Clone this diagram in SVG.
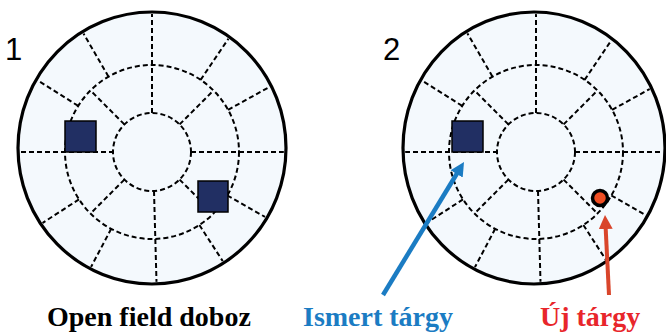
<svg xmlns="http://www.w3.org/2000/svg" xmlns:xlink="http://www.w3.org/1999/xlink" width="666" height="334" viewBox="0 0 666 334">
<style>
.disk{fill:#f4f9fd;stroke:#000;stroke-width:3.2}
.dash{fill:none;stroke:#000;stroke-width:2;stroke-dasharray:5 3}
.obj{fill:#212f63;stroke:#000;stroke-width:1.5}
.num{font-family:"Liberation Sans",Arial,sans-serif;font-size:31px;fill:#000}
.lbl{font-family:"Liberation Serif","Times New Roman",serif;font-size:28px;font-weight:bold}
</style>
<defs>
<clipPath id="clip1"><ellipse cx="152" cy="148" rx="132" ry="134"/></clipPath>
<clipPath id="clip2"><ellipse cx="534" cy="148" rx="129" ry="134"/></clipPath>
<marker id="headBlue" markerUnits="userSpaceOnUse" viewBox="0 0 14 14" markerWidth="14" markerHeight="14" refX="4" refY="7" orient="auto"><path d="M0,0 L14,7 L0,14 z" fill="#1b7cc3"/></marker>
<marker id="headRed" markerUnits="userSpaceOnUse" viewBox="0 0 14 14" markerWidth="14" markerHeight="14" refX="4" refY="7" orient="auto"><path d="M0,0 L14,7 L0,14 z" fill="#d9452b"/></marker>
<g id="grid" class="dash">
<circle cx="152" cy="152" r="39"/>
<circle cx="152" cy="152" r="87"/>
<line x1="5" y1="152" x2="113" y2="152"/>
<line x1="191" y1="152" x2="300" y2="152"/>
<line x1="152" y1="113" x2="152" y2="2"/>
<line x1="154" y1="191" x2="157" y2="300"/>
<line x1="179.6" y1="124.4" x2="213.5" y2="90.5"/>
<line x1="124.4" y1="124.4" x2="90.5" y2="90.5"/>
<line x1="124.4" y1="179.6" x2="90.5" y2="213.5"/>
<line x1="179.6" y1="179.6" x2="213.5" y2="213.5"/>
<line x1="228.1" y1="109.8" x2="282" y2="80"/>
<line x1="200.6" y1="79.9" x2="235" y2="29"/>
<line x1="108.5" y1="76.7" x2="78" y2="24"/>
<line x1="78.2" y1="105.9" x2="26" y2="73"/>
<line x1="79" y1="199.4" x2="27" y2="233"/>
<line x1="111.2" y1="228.8" x2="82" y2="284"/>
<line x1="199.4" y1="225" x2="233" y2="277"/>
<line x1="227.3" y1="195.5" x2="281" y2="226"/>
</g>
</defs>
<g id="box1">
<ellipse class="disk" cx="152" cy="148" rx="134" ry="136"/>
<use xlink:href="#grid" href="#grid" clip-path="url(#clip1)"/>
<rect class="obj" x="65" y="121" width="31" height="31"/>
<rect class="obj" x="198" y="181" width="30" height="31"/>
<text class="num" x="5" y="60">1</text>
</g>
<g id="box2">
<ellipse class="disk" cx="534" cy="148" rx="131" ry="136"/>
<g clip-path="url(#clip2)"><use xlink:href="#grid" href="#grid" transform="translate(384,0)"/></g>
<rect class="obj" x="452" y="121" width="31" height="31"/>
<circle cx="600" cy="198" r="7.5" fill="#f04e23" stroke="#000" stroke-width="3.5"/>
<text class="num" x="383" y="60">2</text>
</g>
<g id="connectors">
<line x1="383" y1="295" x2="458.8" y2="170.5" stroke="#1b7cc3" stroke-width="4.5" marker-end="url(#headBlue)"/>
<line x1="609" y1="295" x2="605.5" y2="225" stroke="#d9452b" stroke-width="4" marker-end="url(#headRed)"/>
</g>
<g id="labels">
<text class="lbl" x="47" y="326" fill="#000">Open field doboz</text>
<text class="lbl" x="303" y="326" fill="#1b7cc3">Ismert tárgy</text>
<text class="lbl" x="540" y="326" fill="#e8262b">Új tárgy</text>
</g>
</svg>
